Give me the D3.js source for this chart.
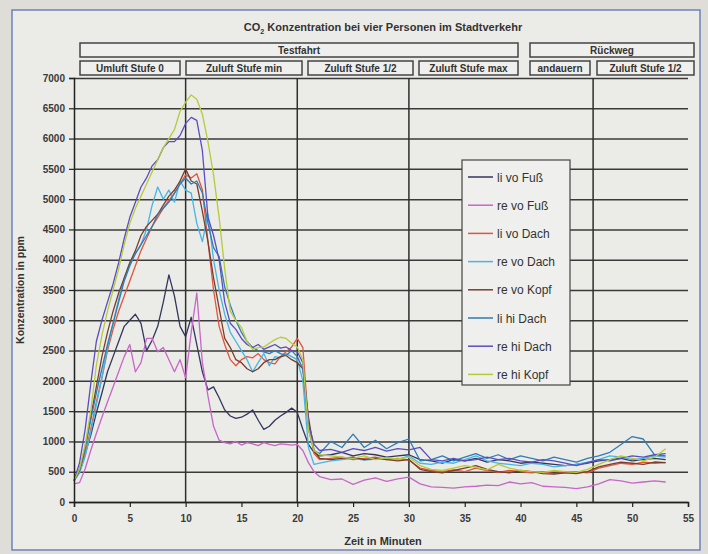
<!DOCTYPE html>
<html>
<head>
<meta charset="utf-8">
<script src="https://cdn.jsdelivr.net/npm/d3@7"></script>
<style>
  body { margin: 0; background: #deddd7; }
  text { font-family: "Liberation Sans", Arial, sans-serif; }
</style>
</head>
<body>
<div id="chart"></div>
<script>
// time in minutes (0.5 min steps up to 22, then 1 min steps)
const minutes = [0,0.5,1,1.5,2,2.5,3,3.5,4,4.5,5,5.5,6,6.5,7,7.5,8,8.5,9,9.5,10,10.5,11,11.5,12,12.5,13,13.5,14,14.5,15,15.5,16,16.5,17,17.5,18,18.5,19,19.5,20,20.5,21,21.5,22,
  23,24,25,26,27,28,29,30,31,32,33,34,35,36,37,38,39,40,41,42,43,44,45,46,47,48,49,50,51,52,53];

const liVoFuss = [350,550,800,1100,1470,1800,2150,2400,2650,2900,3000,3100,2950,2500,2670,2900,3300,3750,3400,2900,2730,3050,2600,2150,1850,1900,1720,1520,1420,1380,1400,1450,1520,1350,1200,1250,1350,1420,1480,1550,1480,1200,950,820,760,
  780,820,760,800,780,740,760,780,700,680,640,700,680,720,660,700,680,640,660,640,620,600,620,640,680,700,720,680,700,720,700];
const reVoFuss = [300,320,550,850,1130,1400,1650,1900,2150,2400,2600,2150,2300,2700,2700,2480,2550,2350,2150,2350,2050,2800,3450,2300,1750,1250,1020,980,960,1000,940,980,960,930,980,950,930,960,950,940,950,850,650,500,420,
  370,380,290,360,400,340,380,410,300,250,240,230,250,260,280,270,330,300,320,260,250,240,220,250,300,370,350,310,330,350,330];
const liVoDach = [350,500,800,1200,1650,2050,2500,2850,3150,3400,3650,3900,4150,4350,4550,4700,4850,4980,5100,5250,5400,5350,5420,5150,4300,3500,2900,2600,2350,2250,2350,2400,2380,2450,2350,2300,2280,2400,2480,2560,2700,2550,1300,800,700,
  720,740,700,720,740,700,720,690,560,520,500,530,500,560,520,490,520,500,480,500,470,490,500,480,560,600,640,620,660,640,650];
const reVoDach = [350,480,750,1150,1600,2050,2550,2950,3350,3700,3950,4100,4250,4500,4900,5200,5000,5150,4950,5300,5150,5100,4600,4300,4750,4000,3500,3100,2800,2650,2500,2350,2150,2300,2450,2250,2400,2380,2450,2400,2350,2000,900,620,640,
  680,700,720,690,710,730,700,760,640,620,660,640,700,760,680,640,620,600,640,620,580,600,620,660,700,760,740,700,720,760,740];
const reVoKopf = [350,520,900,1400,1900,2400,2800,3150,3450,3700,3950,4150,4400,4550,4650,4750,4900,5050,5150,5300,5500,5300,5250,4800,4300,3700,3200,2700,2550,2350,2300,2200,2150,2200,2300,2350,2350,2400,2420,2350,2300,2200,1400,850,720,
  700,720,740,700,720,700,680,700,540,500,480,520,560,600,540,500,480,520,500,470,460,480,470,500,580,620,660,640,620,660,650];
const liHiDach = [350,550,900,1350,1800,2200,2600,2950,3300,3650,3900,4100,4250,4400,4550,4750,4850,4950,5100,5250,5350,5250,5300,5100,4600,4200,4050,3550,3250,3000,2800,2650,2550,2500,2480,2450,2500,2450,2420,2500,2400,2200,1200,850,800,
  1000,900,1120,900,1020,880,980,1040,680,700,760,680,740,800,720,780,700,760,720,680,740,700,660,720,760,820,950,1080,1040,780,760];
const reHiDach = [350,650,1200,1950,2650,3000,3300,3600,3950,4350,4700,4950,5200,5350,5550,5650,5850,5950,5950,6050,6250,6350,6300,5800,4700,4400,4000,3300,2950,2850,2700,2600,2550,2600,2520,2560,2600,2540,2560,2500,2480,2300,1300,950,850,
  870,820,880,850,900,840,880,860,900,700,680,720,680,700,740,700,720,680,660,700,680,640,600,650,700,680,720,760,740,780,800];
const reHiKopf = [350,550,950,1500,2250,2750,3150,3500,3850,4250,4600,4850,5050,5250,5450,5650,5850,6000,6150,6450,6600,6720,6650,6400,5950,5400,4700,3850,3150,3000,2880,2650,2520,2550,2560,2620,2680,2720,2700,2620,2560,2350,1200,850,780,
  760,740,720,760,700,730,710,740,600,540,520,560,600,570,530,620,560,520,500,490,520,500,490,540,620,700,760,720,680,740,880];

const seriesNames = ["li vo Fuß", "re vo Fuß", "li vo Dach", "re vo Dach", "re vo Kopf", "li hi Dach", "re hi Dach", "re hi Kopf"];
const seriesValues = [liVoFuss, reVoFuss, liVoDach, reVoDach, reVoKopf, liHiDach, reHiDach, reHiKopf];
const seriesColors = ["#34365e", "#c865c8", "#e0553c", "#45b6e6", "#7d3d2c", "#2f7db5", "#5a4dc2", "#b7cb3a"];

const yTicks = [0,500,1000,1500,2000,2500,3000,3500,4000,4500,5000,5500,6000,6500,7000];
const xTicks = [0,5,10,15,20,25,30,35,40,45,50,55];
const phaseLines = [10, 20, 30, 46.5];

// annotation boxes above the plot (pixel layout)
const topBoxes = [
  { label: "Testfahrt", x0: 80, x1: 518, row: 0 },
  { label: "Rückweg", x0: 530, x1: 694, row: 0 },
  { label: "Umluft Stufe 0", x0: 80, x1: 180, row: 1 },
  { label: "Zuluft Stufe min", x0: 186, x1: 302, row: 1 },
  { label: "Zuluft Stufe 1/2", x0: 308, x1: 413, row: 1 },
  { label: "Zuluft Stufe max", x0: 419, x1: 518, row: 1 },
  { label: "andauern", x0: 530, x1: 590, row: 1 },
  { label: "Zuluft Stufe 1/2", x0: 597, x1: 694, row: 1 }
];

const W = 708, H = 554;
const svg = d3.select("#chart").append("svg").attr("width", W).attr("height", H);

// chart frame
svg.append("rect").attr("x", 12).attr("y", 10).attr("width", 688).attr("height", 540)
  .attr("fill", "#ebebe8").attr("stroke", "#6f82b8").attr("stroke-width", 1.5);

const x = d3.scaleLinear().domain([0, 55]).range([74, 688]);
const y = d3.scaleLinear().domain([0, 7000]).range([502, 78]);

// horizontal grid
svg.append("g")
  .attr("transform", "translate(74,0)")
  .call(d3.axisLeft(y).tickValues(yTicks).tickSize(-(688 - 74)).tickFormat(""))
  .call(g => g.select(".domain").remove())
  .selectAll("line").attr("stroke", "#3a3a3a").attr("stroke-width", 1.5);

// vertical phase lines
svg.selectAll(".phase").data(phaseLines).enter().append("line")
  .attr("x1", d => x(d)).attr("x2", d => x(d))
  .attr("y1", y(7000)).attr("y2", y(0))
  .attr("stroke", "#2e2e2e").attr("stroke-width", 1.5);

// series
const line = d3.line()
  .x((d, i) => x(minutes[i]))
  .y(d => y(d));

seriesValues.forEach((vals, k) => {
  svg.append("path")
    .datum(vals)
    .attr("fill", "none")
    .attr("stroke", seriesColors[k])
    .attr("stroke-width", 1.3)
    .attr("stroke-linejoin", "round")
    .attr("d", line);
});

// axes
const yAxis = svg.append("g")
  .attr("transform", "translate(74,0)")
  .call(d3.axisLeft(y).tickValues(yTicks).tickFormat(d3.format("d")).tickSize(5).tickPadding(4));
const xAxis = svg.append("g")
  .attr("transform", "translate(0,502)")
  .call(d3.axisBottom(x).tickValues(xTicks).tickFormat(d3.format("d")).tickSize(5).tickPadding(8));
[yAxis, xAxis].forEach(a => {
  a.select(".domain").attr("stroke", "#222").attr("stroke-width", 1.5);
  a.selectAll(".tick line").attr("stroke", "#222").attr("stroke-width", 1.2);
  a.selectAll("text").attr("font-size", 10).attr("font-weight", "bold").attr("fill", "#3a3a3a")
    .style("font-family", "'Liberation Sans', Arial, sans-serif");
});

// axis titles
svg.append("text")
  .attr("transform", "translate(24,290) rotate(-90)")
  .attr("text-anchor", "middle")
  .attr("font-size", 10.5).attr("font-weight", "bold").attr("fill", "#333")
  .text("Konzentration in ppm");
svg.append("text")
  .attr("x", 383).attr("y", 545)
  .attr("text-anchor", "middle")
  .attr("font-size", 11).attr("font-weight", "bold").attr("fill", "#333")
  .text("Zeit in Minuten");

// title
const title = svg.append("text")
  .attr("x", 383).attr("y", 31)
  .attr("text-anchor", "middle")
  .attr("font-size", 11).attr("font-weight", "bold").attr("fill", "#333");
title.append("tspan").text("CO");
title.append("tspan").attr("font-size", 7).attr("dy", 3).text("2");
title.append("tspan").attr("dy", -3).text(" Konzentration bei vier Personen im Stadtverkehr");

// phase boxes
const boxes = svg.selectAll(".box").data(topBoxes).enter().append("g");
boxes.append("rect")
  .attr("x", d => d.x0).attr("width", d => d.x1 - d.x0)
  .attr("y", d => d.row === 0 ? 43 : 61).attr("height", 14)
  .attr("fill", "#efefed").attr("stroke", "#444").attr("stroke-width", 1.5);
boxes.append("text")
  .attr("x", d => (d.x0 + d.x1) / 2)
  .attr("y", d => (d.row === 0 ? 43 : 61) + 11)
  .attr("text-anchor", "middle")
  .attr("font-size", 10).attr("font-weight", "bold").attr("fill", "#333")
  .text(d => d.label);

// legend
const legend = svg.append("g");
legend.append("rect")
  .attr("x", 462).attr("y", 160).attr("width", 108).attr("height", 225)
  .attr("fill", "#efefed").attr("stroke", "#444").attr("stroke-width", 1.2);
const items = legend.selectAll(".item").data(seriesNames).enter().append("g")
  .attr("transform", (d, i) => `translate(0,${177 + i * 28.2})`);
items.append("line")
  .attr("x1", 468).attr("x2", 493)
  .attr("stroke", (d, i) => seriesColors[i]).attr("stroke-width", 1.5);
items.append("text")
  .attr("x", 497).attr("y", 4.5)
  .attr("font-size", 12).attr("fill", "#333")
  .text(d => d);
</script>
</body>
</html>
